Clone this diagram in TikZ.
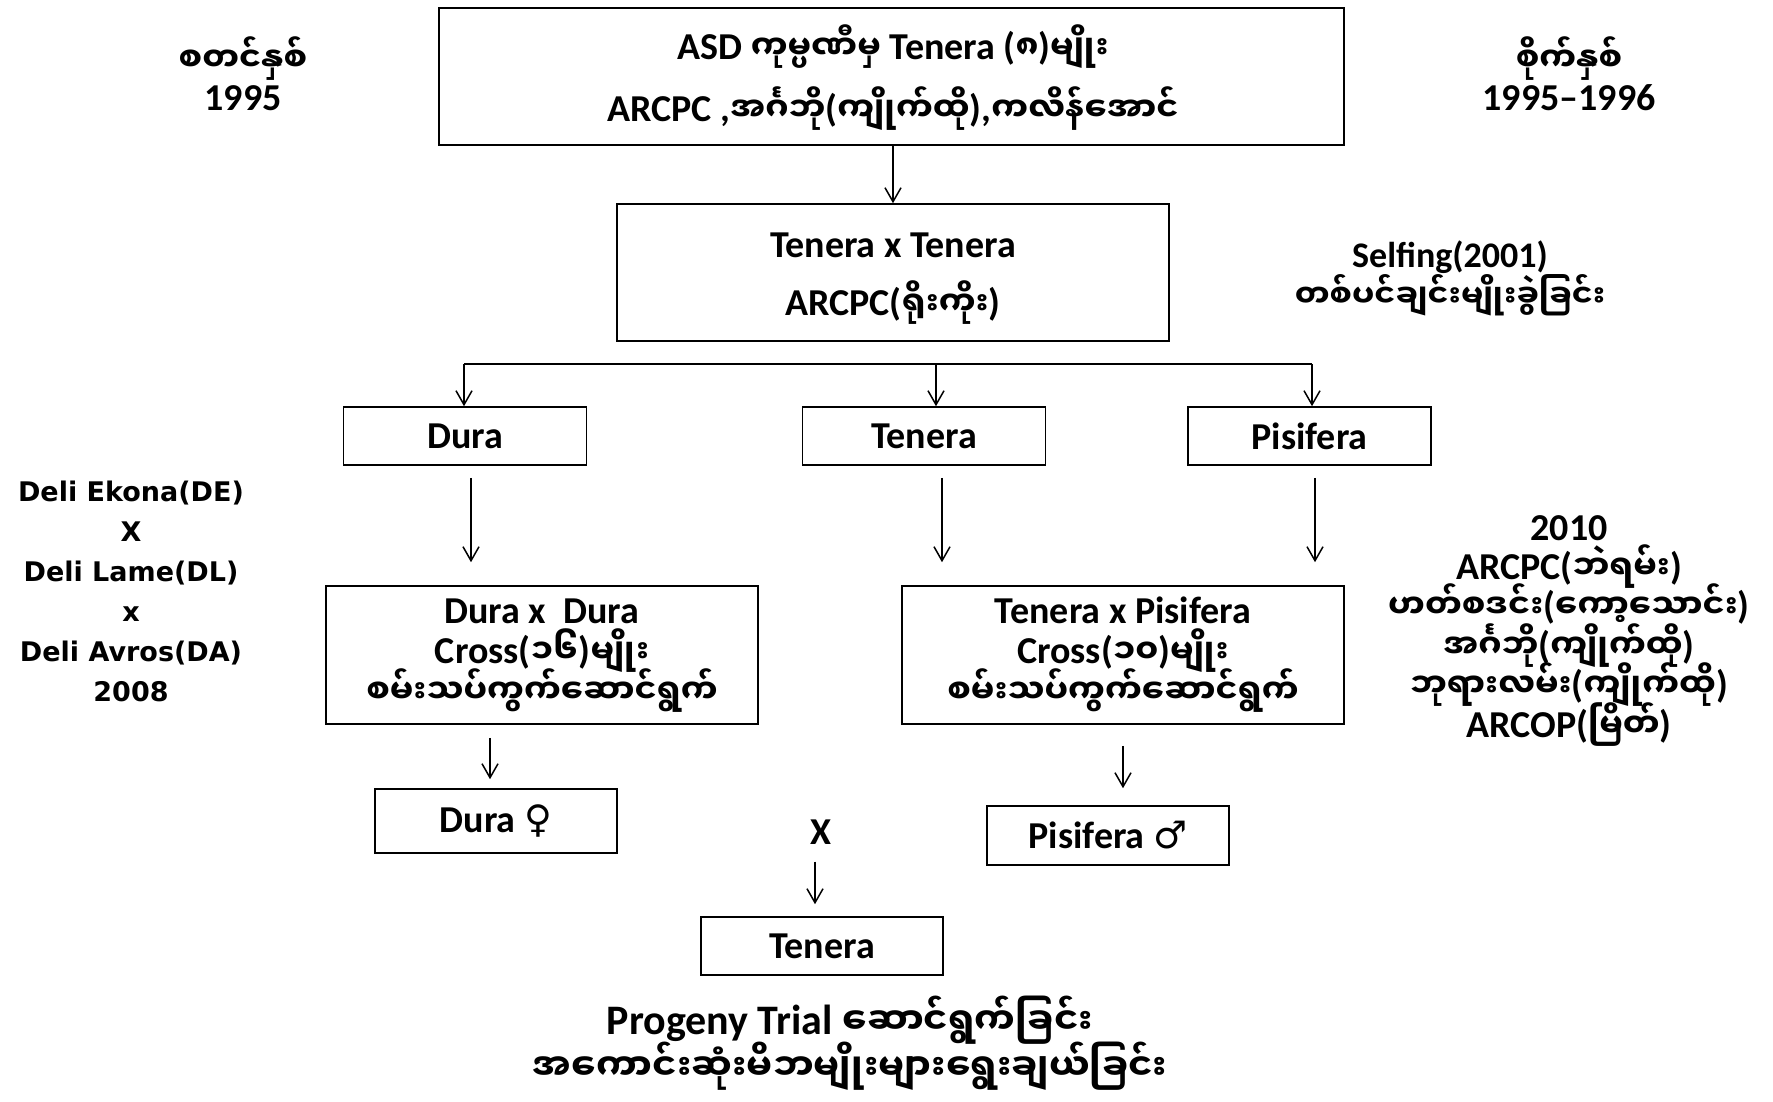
\documentclass[tikz,border=0pt]{standalone}
\usepackage{fontspec}
\setmainfont{Carlito}
\newfontfamily\myfont[Script=Myanmar,Scale=0.87]{Noto Sans Myanmar UI}
\newfontfamily\djv{DejaVu Sans}
\usetikzlibrary{arrows.meta}
\newcommand\mm[1]{{\myfont #1}}
\newcommand\tightls{\lineskiplimit=-100pt\relax\lineskip=0pt\relax}
\begin{document}
\begin{tikzpicture}[x=1pt,y=-1pt,
  bx/.style={draw, line width=1.6pt, inner sep=0pt, align=center, text=black},
  txt/.style={inner sep=0pt, align=center, font={\bfseries\fontsize{38}{39}\selectfont\tightls}},
  arr/.style={line width=1.5pt, -{Straight Barb[length=14pt,width=16pt,line width=1.5pt]}},
  ln/.style={line width=1.5pt},
  f1/.style={font={\bfseries\fontsize{38}{62}\selectfont\tightls}},
  f2/.style={font={\bfseries\fontsize{38}{58}\selectfont\tightls}},
  f3/.style={font={\bfseries\fontsize{38}{40}\selectfont\tightls}},
  fs/.style={font={\bfseries\fontsize{36}{40}\selectfont\tightls}}
]
\useasboundingbox (0,0) rectangle (1773,1101);
\fill[white] (0,0) rectangle (1773,1101);

% top box (text anchored at the baseline of its last line)
\node[bx, minimum width=905pt, minimum height=137pt] (top) at (891.5,76.5) {};
\node[txt, f1, anchor=base] (topt) at (893,121)
  {ASD \mm{ကုမ္ပဏီမှ} Tenera (\mm{၈})\mm{မျိုး}\\ARCPC ,\mm{အင်္ဂဘို}(\mm{ကျိုက်ထို}),\mm{ကလိန်အောင်}};

\node[txt, anchor=base] (start) at (243,110) {\mm{စတင်နှစ်}\\1995};
\node[txt, anchor=base] (plant) at (1569,110) {\mm{စိုက်နှစ်}\\1995–1996};

% second box
\node[bx, minimum width=552pt, minimum height=137pt] (tt) at (893,272.5) {};
\node[txt, f2, anchor=base] (ttt) at (893,315) {Tenera x Tenera\\ARCPC(\mm{ရိုးကိုး})};
\node[txt, fs, anchor=base] (self) at (1450,307) {Selfing(2001)\\\mm{တစ်ပင်ချင်းမျိုးခွဲခြင်း}};

\draw[arr] (top.south -| tt.north) -- (tt.north);

% three boxes
\node[bx, f3, minimum width=243pt, minimum height=58pt] (dura) at (465,436) {Dura};
\node[bx, f3, minimum width=243pt, minimum height=58pt] (ten) at (924,436) {Tenera};
\node[bx, f3, minimum width=243pt, minimum height=58pt] (pis) at (1309.5,436) {Pisifera};

\coordinate (bl) at (464,364);
\coordinate (bm) at (936,364);
\coordinate (br) at (1312,364);
\draw[ln] (bl) -- (br);
\draw[arr] (bl) -- (bl |- dura.north);
\draw[arr] (bm) -- (bm |- ten.north);
\draw[arr] (br) -- (br |- pis.north);

% left and right notes
\node[txt, font={\djv\bfseries\fontsize{27}{40}\selectfont}] (deli) at (131,591)
  {Deli Ekona(DE)\\X\\Deli Lame(DL)\\x\\Deli Avros(DA)\\2008};
\node[txt, anchor=base, font={\bfseries\fontsize{38}{39.4}\selectfont\tightls}] (sites) at (1569,737)
  {2010\\ARCPC(\mm{ဘဲရမ်း})\\\mm{ဟတ်စဒင်း}(\mm{ကော့သောင်း})\\\mm{အင်္ဂဘို}(\mm{ကျိုက်ထို})\\\mm{ဘုရားလမ်း}(\mm{ကျိုက်ထို})\\ARCOP(\mm{မြိတ်})};

% cross boxes
\node[bx, minimum width=432pt, minimum height=138pt] (dxd) at (542,655) {};
\node[txt, f3, anchor=base] (dxdt) at (542,703)
  {Dura x\ \ Dura\\Cross(\mm{၁၆})\mm{မျိုး}\\\mm{စမ်းသပ်ကွက်ဆောင်ရွက်}};
\node[bx, minimum width=442pt, minimum height=138pt] (txp) at (1123,655) {};
\node[txt, f3, anchor=base] (txpt) at (1123,703)
  {Tenera x Pisifera\\Cross(\mm{၁၀})\mm{မျိုး}\\\mm{စမ်းသပ်ကွက်ဆောင်ရွက်}};

\draw[arr, shorten <=12pt, shorten >=23pt] (dura.south -| 471,0) -- (dxd.north -| 471,0);
\draw[arr, shorten <=12pt, shorten >=23pt] (ten.south -| 942,0) -- (dxd.north -| 942,0);
\draw[arr, shorten <=12pt, shorten >=23pt] (pis.south -| 1315,0) -- (txp.north -| 1315,0);

% parents
\node[bx, f3, minimum width=242pt, minimum height=64pt] (dfem) at (496,821) {Dura {\djv\mdseries ♀}};
\node[bx, f3, minimum width=242pt, minimum height=59pt] (pmal) at (1108,835.5) {Pisifera {\djv\mdseries ♂}};
\draw[arr, shorten <=13pt, shorten >=9pt] (dxd.south -| 490,0) -- (dfem.north -| 490,0);
\draw[arr, shorten <=21pt, shorten >=17pt] (txp.south -| 1123,0) -- (pmal.north -| 1123,0);

\node[txt] (cross) at (821,832) {X};
\node[bx, f3, minimum width=242pt, minimum height=58pt] (tenb) at (822,946) {Tenera};
\draw[arr, shorten <=17pt, shorten >=12pt] (cross.south -| 815,0) -- (tenb.north -| 815,0);

\node[txt, anchor=base, font={\bfseries\fontsize{42}{46}\selectfont\tightls}] (prog) at (850,1080)
  {Progeny Trial \mm{ဆောင်ရွက်ခြင်း}\\\mm{အကောင်းဆုံးမိဘမျိုးများရွေးချယ်ခြင်း}};
\end{tikzpicture}
\end{document}
